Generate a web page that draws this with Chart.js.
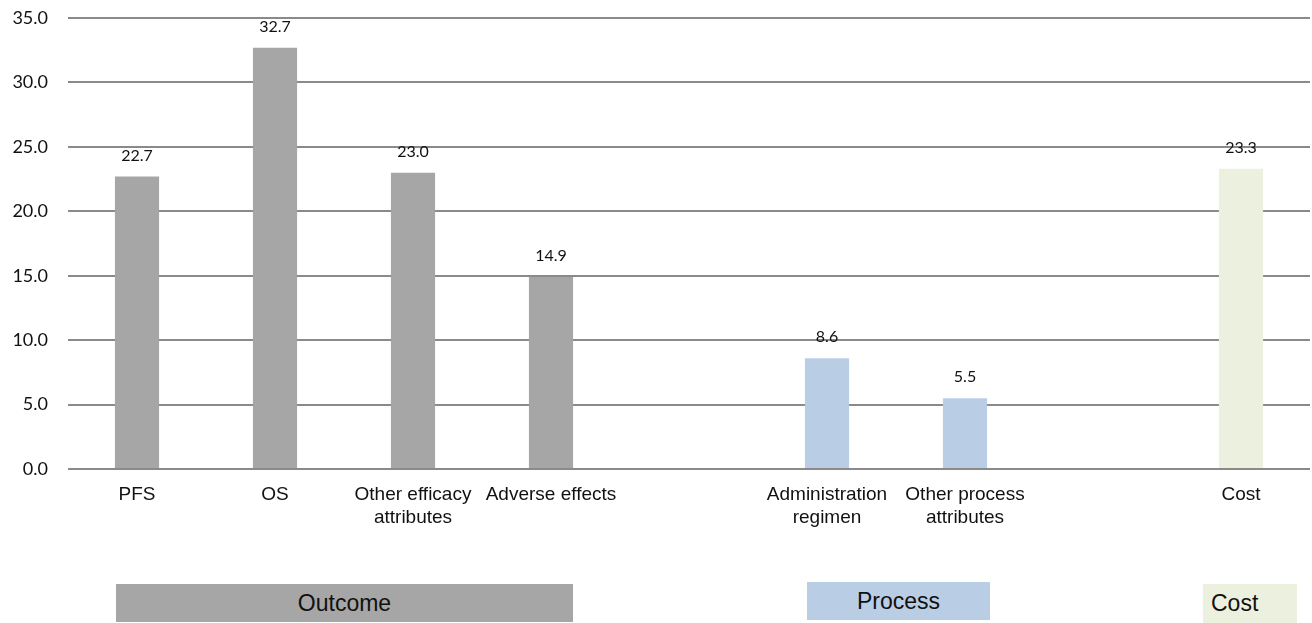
<!DOCTYPE html>
<html>
<head>
<meta charset="utf-8">
<script src="https://cdn.jsdelivr.net/npm/chart.js@4"></script>
<style>
  html, body { margin: 0; padding: 0; background: #fff; }
  #wrap { position: relative; width: 1312px; height: 623px; overflow: hidden; }
  #chart { position: absolute; left: 0; top: 0; }
  .group {
    position: absolute;
    font-family: "Liberation Sans", Arial, sans-serif;
    font-size: 23px;
    color: #111;
    display: flex;
    align-items: center;
    justify-content: center;
  }
</style>
</head>
<body>
<div id="wrap">
  <canvas id="chart" width="1312" height="623"></canvas>
  <div class="group" style="left:116px; top:584px; width:457px; height:38px; background:#a6a6a6;">Outcome</div>
  <div class="group" style="left:807px; top:582px; width:183px; height:38px; background:#b9cde5;">Process</div>
  <div class="group" style="left:1203px; top:584px; width:94px; height:39px; background:#ebf1de; justify-content:flex-start; padding-left:8px; box-sizing:border-box;">Cost</div>
</div>
<script>
const categories = [
  'PFS',
  'OS',
  ['Other efficacy', 'attributes'],
  'Adverse effects',
  '',
  ['Administration', 'regimen'],
  ['Other process', 'attributes'],
  '',
  'Cost'
]
const importance = [22.7, 32.7, 23.0, 14.9, null, 8.6, 5.5, null, 23.3]
const barColors = ['#a6a6a6', '#a6a6a6', '#a6a6a6', '#a6a6a6', '#a6a6a6',
  '#b9cde5', '#b9cde5', '#ebf1de', '#ebf1de']
const yTicks = [0, 5, 10, 15, 20, 25, 30, 35]

// value labels above each bar
const valueLabels = {
  id: 'valueLabels',
  afterDatasetsDraw (chart) {
    const ctx = chart.ctx
    const meta = chart.getDatasetMeta(0)
    ctx.save()
    ctx.font = '16px Lato, "Open Sans", sans-serif'
    ctx.fillStyle = '#111'
    ctx.textAlign = 'center'
    ctx.textBaseline = 'middle'
    meta.data.forEach((bar, i) => {
      const v = importance[i]
      if (v == null) return
      ctx.fillText(v.toFixed(1), bar.x, bar.y - 21)
    })
    ctx.restore()
  }
}

const ctx = document.getElementById('chart')
new Chart(ctx, {
  type: 'bar',
  data: {
    labels: categories,
    datasets: [{
      data: importance,
      backgroundColor: barColors,
      barPercentage: 0.32,
      categoryPercentage: 1
    }]
  },
  options: {
    responsive: false,
    animation: false,
    layout: { padding: { top: 18, right: 2, bottom: 74, left: 0 } },
    plugins: {
      legend: { display: false },
      tooltip: { enabled: false }
    },
    scales: {
      x: {
        grid: { display: false, drawTicks: false },
        border: { display: false },
        afterFit (scale) {
          scale.height = 80
          scale.paddingLeft = 0
          scale.paddingRight = 0
        },
        ticks: {
          color: '#111',
          padding: 14,
          maxRotation: 0,
          autoSkip: false,
          font: { family: '"Liberation Sans", Arial, sans-serif', size: 19, lineHeight: 1.22 }
        }
      },
      y: {
        min: 0,
        max: 35,
        afterFit (scale) {
          scale.width = 68
          scale.paddingTop = 0
          scale.paddingBottom = 0
        },
        afterBuildTicks (scale) { scale.ticks = yTicks.map(v => ({ value: v })) },
        border: { display: false },
        grid: { color: '#8a8a8a', lineWidth: 2, drawTicks: false },
        ticks: {
          color: '#111',
          padding: 20,
          font: { family: 'Lato, "Open Sans", sans-serif', size: 18 },
          callback: v => Number(v).toFixed(1)
        }
      }
    }
  },
  plugins: [valueLabels]
})
</script>
</body>
</html>
